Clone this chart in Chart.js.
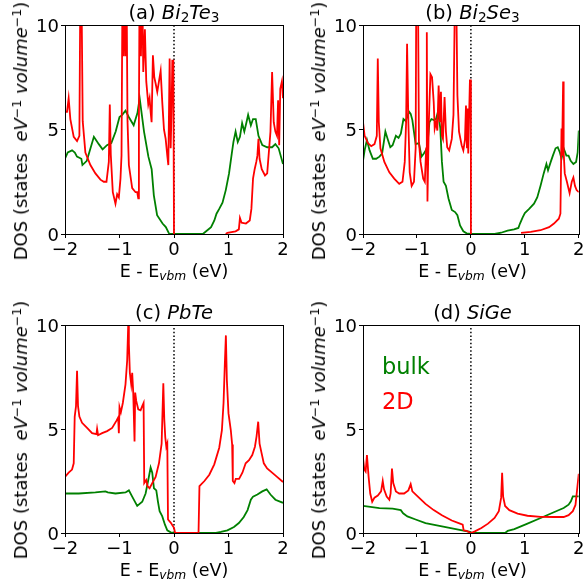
<!DOCTYPE html>
<html><head><meta charset="utf-8">
<script src="https://cdn.jsdelivr.net/npm/chart.js@4/dist/chart.umd.min.js"></script>
<style>
body{margin:0;background:#fff;}
#wrap{position:relative;width:586px;height:586px;overflow:hidden;font-family:"DejaVu Sans",sans-serif;color:#000;}
canvas{position:absolute;}
.t{position:absolute;white-space:nowrap;font-size:17.5px;line-height:1;}
.ttl{transform:translateX(-50%);font-size:19.5px;}
.xl{transform:translateX(-50%);}
.yl{transform:translate(-50%,-50%) rotate(-90deg);font-size:18px;}
.sp{font-size:0.7em;position:relative;top:-0.5em;}
.sb{font-size:0.7em;position:relative;top:0.25em;}
i{font-style:italic;}
.leg{position:absolute;font-size:22.5px;line-height:1;white-space:nowrap;}
</style></head>
<body><div id="wrap"></div>
<script>
// ---- data: energy (eV) vs DOS ----
const xTicks = [-2, -1, 0, 1, 2];
const yTicks = [0, 5, 10];
const vline = [[0, 0], [0, 10]];

const aBulk = [[-2,3.6],[-1.95,3.9],[-1.87,4.0],[-1.82,3.9],[-1.78,3.7],[-1.70,3.6],[-1.68,3.3],[-1.60,3.5],[-1.47,4.65],[-1.38,4.3],[-1.31,4.05],[-1.23,4.25],[-1.15,4.35],[-1.07,4.9],[-1.0,5.6],[-0.95,5.7],[-0.89,5.9],[-0.83,5.6],[-0.74,5.2],[-0.67,5.8],[-0.63,6.5],[-0.55,4.9],[-0.47,3.7],[-0.41,3.1],[-0.37,1.85],[-0.31,0.9],[-0.21,0.5],[-0.15,0.33],[-0.09,0.02],[0,0],[0.53,0],[0.59,0.13],[0.68,0.33],[0.74,0.65],[0.78,0.97],[0.83,1.2],[0.89,1.5],[0.95,2.1],[1.01,2.9],[1.06,3.85],[1.09,4.4],[1.13,4.9],[1.17,4.4],[1.21,4.65],[1.25,5.3],[1.29,4.9],[1.33,5.35],[1.36,5.7],[1.41,5.2],[1.45,5.5],[1.5,5.5],[1.55,4.7],[1.62,4.25],[1.71,4.15],[1.8,4.15],[1.86,4.3],[1.92,4.1],[2,3.35]];
const a2D = [[-2,5.85],[-1.963,5.85],[-1.933,6.5],[-1.902,5.5],[-1.84,4.65],[-1.779,4.45],[-1.736,4.7],[-1.718,12],[-1.699,12],[-1.675,5.4],[-1.626,3.9],[-1.534,3.3],[-1.442,2.9],[-1.35,2.6],[-1.288,2.5],[-1.239,2.5],[-1.196,3.45],[-1.178,6.2],[-1.16,3.8],[-1.123,2.0],[-1.074,1.45],[-1.043,1.9],[-1.012,1.75],[-0.982,2.65],[-0.963,3.76],[-0.945,12],[-0.926,8.5],[-0.908,12],[-0.89,8.5],[-0.871,12],[-0.853,5.4],[-0.828,3.3],[-0.767,2.2],[-0.706,2.0],[-0.675,2.0],[-0.656,1.7],[-0.644,5.4],[-0.632,12],[-0.607,8.5],[-0.583,12],[-0.564,7.75],[-0.534,9.8],[-0.509,7.3],[-0.472,6.2],[-0.448,6.5],[-0.429,5.85],[-0.411,5.35],[-0.387,8.55],[-0.362,7.5],[-0.337,7.2],[-0.307,6.8],[-0.276,7.3],[-0.245,7.8],[-0.215,6.3],[-0.184,5.0],[-0.153,4.55],[-0.123,3.75],[-0.104,3.3],[-0.08,8.4],[-0.061,4.1],[-0.043,6.15],[-0.031,8.3],[-0.012,8.3],[0,0],[0.5,null],[0.95,0],[0.98,0.06],[1.13,0.13],[1.19,0.22],[1.21,0.77],[1.24,0.54],[1.32,0.5],[1.39,0.65],[1.42,1.2],[1.45,2.65],[1.48,3.1],[1.51,3.45],[1.53,3.75],[1.55,4.55],[1.57,3.6],[1.61,3.1],[1.67,2.8],[1.71,2.9],[1.74,3.9],[1.77,4.9],[1.8,7.75],[1.83,5.35],[1.86,4.9],[1.89,4.7],[1.91,6.4],[1.93,4.25],[1.95,6.95],[1.98,7.3],[2.0,6.5]];

const bBulk = [[-2,3.5],[-1.97,4.0],[-1.927,4.5],[-1.878,4.0],[-1.817,3.6],[-1.756,3.6],[-1.695,3.7],[-1.646,3.85],[-1.585,4.9],[-1.543,4.55],[-1.494,4.15],[-1.451,4.25],[-1.39,4.7],[-1.341,4.6],[-1.299,4.8],[-1.25,5.5],[-1.207,5.4],[-1.146,5.85],[-1.116,5.75],[-1.085,5.45],[-1.024,4.3],[-0.963,4.35],[-0.915,3.7],[-0.872,3.85],[-0.811,4.1],[-0.768,5.35],[-0.732,5.5],[-0.689,5.45],[-0.646,5.5],[-0.61,5.85],[-0.567,5.05],[-0.537,3.45],[-0.506,2.5],[-0.463,2.3],[-0.415,1.7],[-0.354,1.15],[-0.293,1.05],[-0.25,0.9],[-0.201,0.41],[-0.14,0.13],[-0.079,0.03],[0,0],[0.44,0],[0.56,0.06],[0.68,0.16],[0.8,0.22],[0.88,0.29],[0.91,0.5],[0.96,0.8],[1.0,1.0],[1.08,1.2],[1.17,1.45],[1.23,1.75],[1.29,2.3],[1.35,2.9],[1.4,3.35],[1.43,3.05],[1.48,3.45],[1.52,3.75],[1.57,4.1],[1.61,4.15],[1.65,3.9],[1.68,3.6],[1.72,4.1],[1.77,3.75],[1.81,3.75],[1.85,3.5],[1.9,3.35],[1.95,3.45],[1.98,3.9],[2.0,4.95]];
const b2D = [[-2,5.35],[-1.97,4.7],[-1.909,4.35],[-1.848,4.2],[-1.787,4.3],[-1.744,4.7],[-1.726,8.4],[-1.707,5.35],[-1.677,4.1],[-1.604,3.45],[-1.512,2.95],[-1.421,2.65],[-1.329,2.4],[-1.268,2.5],[-1.226,3.45],[-1.201,5.35],[-1.183,9.1],[-1.159,5.35],[-1.134,2.95],[-1.098,2.3],[-1.055,2.5],[-1.024,4.1],[-1.012,12],[-0.982,12],[-0.963,4.4],[-0.933,3.45],[-0.884,2.65],[-0.854,2.5],[-0.829,4.1],[-0.817,9.65],[-0.805,1.55],[-0.78,5.35],[-0.75,7.65],[-0.72,7.5],[-0.689,6.3],[-0.671,5.05],[-0.646,5.35],[-0.622,4.95],[-0.598,7.1],[-0.573,5.35],[-0.555,6.8],[-0.537,4.7],[-0.518,4.55],[-0.488,6.55],[-0.463,4.9],[-0.439,4.15],[-0.402,4.0],[-0.354,4.55],[-0.323,5.7],[-0.293,12],[-0.274,12],[-0.25,6.65],[-0.22,4.9],[-0.171,4.25],[-0.14,4.0],[-0.11,4.5],[-0.091,6.15],[-0.073,4.1],[-0.061,6.0],[-0.049,3.85],[-0.018,7.35],[0,7.35],[0,0],[0.5,null],[0.93,0.05],[1.11,0.1],[1.29,0.18],[1.45,0.33],[1.54,0.5],[1.63,0.73],[1.66,0.97],[1.68,5.05],[1.69,3.75],[1.71,7.3],[1.72,3.9],[1.74,2.9],[1.78,2.5],[1.83,1.95],[1.87,2.5],[1.9,2.7],[1.93,2.3],[1.96,2.1],[2.0,2.0]];

const cBulk = [[-2,1.9],[-1.748,1.9],[-1.442,1.95],[-1.258,2.0],[-1.215,1.95],[-1.074,1.9],[-0.89,1.95],[-0.828,2.05],[-0.767,1.75],[-0.675,1.3],[-0.583,1.5],[-0.521,1.9],[-0.472,2.55],[-0.429,3.15],[-0.399,2.9],[-0.368,2.15],[-0.325,2.05],[-0.294,1.5],[-0.264,1.05],[-0.215,0.8],[-0.166,0.4],[-0.123,0.13],[-0.061,0.03],[0,0],[0.77,0],[0.86,0.05],[0.98,0.13],[1.1,0.29],[1.19,0.48],[1.28,0.77],[1.35,1.1],[1.41,1.6],[1.45,1.75],[1.53,1.85],[1.62,2.0],[1.7,2.1],[1.77,1.85],[1.86,1.6],[2.0,1.45]];
const c2D = [[-2,2.7],[-1.933,2.9],[-1.871,3.05],[-1.84,3.35],[-1.822,5.6],[-1.798,6.1],[-1.779,7.8],[-1.761,6.1],[-1.736,5.6],[-1.687,5.3],[-1.595,5.05],[-1.503,4.8],[-1.423,4.75],[-1.411,5.0],[-1.393,4.7],[-1.319,4.8],[-1.227,4.9],[-1.135,5.05],[-1.055,5.4],[-1.025,5.55],[-1.012,4.8],[-1.0,6.05],[-0.975,5.8],[-0.939,6.25],[-0.89,7.15],[-0.859,8.3],[-0.84,10],[-0.828,9.1],[-0.81,7.7],[-0.785,7.15],[-0.767,7.7],[-0.748,6.75],[-0.724,4.4],[-0.712,6.75],[-0.693,6.35],[-0.656,5.95],[-0.613,5.9],[-0.583,6.1],[-0.558,6.25],[-0.546,2.4],[-0.509,2.55],[-0.485,2.25],[-0.448,2.15],[-0.399,2.4],[-0.337,2.7],[-0.276,3.35],[-0.227,4.3],[-0.196,7.2],[-0.178,5.45],[-0.16,4.6],[-0.141,4.15],[-0.123,4.3],[-0.11,0.65],[-0.061,0.5],[0,0.25],[0.02,0],[0.45,0],[0.467,2.25],[0.558,2.5],[0.648,2.8],[0.739,3.3],[0.83,4.1],[0.879,4.95],[0.909,6.25],[0.933,8.15],[0.952,9.5],[0.97,7.35],[1.0,5.75],[1.042,4.95],[1.067,4.25],[1.079,2.5],[1.109,2.4],[1.133,2.6],[1.194,2.6],[1.255,2.9],[1.315,3.35],[1.376,3.5],[1.436,3.75],[1.485,4.15],[1.515,4.65],[1.545,5.35],[1.57,4.3],[1.606,3.85],[1.648,3.35],[1.709,3.1],[1.8,2.9],[1.891,2.7],[2.0,2.45]];

const dBulk = [[-2,1.3],[-1.695,1.2],[-1.451,1.17],[-1.299,1.1],[-1.256,0.95],[-1.177,0.8],[-1.024,0.65],[-0.841,0.48],[-0.537,0.32],[-0.232,0.16],[-0.018,0.06],[0,0],[0.634,0],[0.683,0.1],[0.805,0.19],[1.049,0.45],[1.293,0.72],[1.537,1.0],[1.72,1.2],[1.811,1.36],[1.854,1.52],[1.89,1.76],[1.963,1.76],[2.0,1.76]];
const d2D = [[-2,3.6],[-1.976,3.05],[-1.951,2.95],[-1.927,3.75],[-1.896,2.7],[-1.866,1.9],[-1.829,1.5],[-1.787,1.7],[-1.726,1.8],[-1.665,2.0],[-1.634,2.5],[-1.61,2.1],[-1.561,1.75],[-1.512,1.6],[-1.488,1.9],[-1.463,3.1],[-1.439,2.4],[-1.39,2.0],[-1.329,1.9],[-1.238,1.9],[-1.159,2.05],[-1.116,2.35],[-1.085,2.0],[-0.963,1.7],[-0.841,1.4],[-0.689,1.1],[-0.537,0.85],[-0.354,0.6],[-0.201,0.45],[-0.152,0.4],[-0.134,0.13],[-0.079,0.1],[0,0],[0.073,0.08],[0.195,0.24],[0.317,0.45],[0.439,0.72],[0.518,1.05],[0.561,1.7],[0.579,2.9],[0.598,1.75],[0.634,1.3],[0.713,1.1],[0.866,0.93],[1.049,0.83],[1.293,0.78],[1.537,0.77],[1.72,0.77],[1.811,0.86],[1.89,1.05],[1.939,1.35],[1.976,2.25],[2.0,2.85]];

const titles = [
  '(a) <i>Bi</i><span class="sb">2</span><i>Te</i><span class="sb">3</span>',
  '(b) <i>Bi</i><span class="sb">2</span><i>Se</i><span class="sb">3</span>',
  '(c) <i>PbTe</i>',
  '(d) <i>SiGe</i>'
];
const seriesBulk = [aBulk, bBulk, cBulk, dBulk];
const series2D = [a2D, b2D, c2D, d2D];
const legendLabels = ['bulk', '2D'];
const xLabel = 'E - E<span class="sb"><i>vbm</i></span> (eV)';
const yLabel = 'DOS (states&nbsp;&nbsp;<i>eV</i><span class="sp">\u22121</span> <i>volume</i><span class="sp">\u22121</span>)';

// ---- layout (pixel geometry of each panel) ----
const panels = [
  {left:0,   top:0,   w:293, h:293, l:65,  t:25,  r:283, b:234},
  {left:293, top:0,   w:293, h:293, l:363, t:25,  r:582, b:234},
  {left:0,   top:293, w:293, h:293, l:65,  t:325, r:283, b:533},
  {left:293, top:293, w:293, h:293, l:363, t:325, r:582, b:533}
];

Chart.defaults.font.family = '"DejaVu Sans", sans-serif';
Chart.defaults.font.size = 18;
Chart.defaults.color = '#000';

const frame = {
  id: 'frame',
  afterDatasetsDraw(chart) {
    const a = chart.chartArea, c = chart.ctx;
    c.save();
    c.strokeStyle = '#000';
    c.lineWidth = 1;
    c.strokeRect(Math.round(a.left) + 0.5, Math.round(a.top) + 0.5, Math.round(a.right - a.left), Math.round(a.bottom - a.top));
    c.restore();
  }
};

const fmt = v => (v < 0 ? '\u2212' + Math.abs(v) : String(v));
const toXY = arr => arr.map(p => ({x: p[0], y: p[1]}));
const wrap = document.getElementById('wrap');

panels.forEach((p, i) => {
  const cv = document.createElement('canvas');
  cv.width = p.w; cv.height = p.h;
  cv.style.left = p.left + 'px'; cv.style.top = p.top + 'px';
  cv.style.width = p.w + 'px'; cv.style.height = p.h + 'px';
  wrap.appendChild(cv);
  const yW = p.l - p.left, padT = p.t - p.top, padR = p.left + p.w - p.r, xH = p.top + p.h - p.b;
  new Chart(cv, {
    type: 'line',
    data: {
      datasets: [
        {data: toXY(series2D[i]), borderColor: '#ff0000', borderWidth: 1.8, pointRadius: 0, spanGaps: false},
        {data: toXY(seriesBulk[i]), borderColor: '#008000', borderWidth: 1.8, pointRadius: 0},
        {data: toXY(vline), borderColor: '#000', borderWidth: 1.5, borderDash: [1.5, 2.2], pointRadius: 0}
      ]
    },
    options: {
      responsive: false, animation: false, devicePixelRatio: 1,
      layout: {autoPadding: false, padding: {top: padT, right: padR, left: 0, bottom: 0}},
      plugins: {legend: {display: false}, tooltip: {enabled: false}},
      scales: {
        x: {
          type: 'linear', min: xTicks[0], max: xTicks[xTicks.length - 1],
          afterBuildTicks: s => { s.ticks = xTicks.map(v => ({value: v})); },
          afterFit: s => { s.height = xH; },
          ticks: {callback: fmt, padding: 1.5, maxRotation: 0, autoSkip: false},
          grid: {drawOnChartArea: false, drawTicks: true, tickLength: 4, color: '#000', tickWidth: 1},
          border: {display: true, color: '#000', width: 1}
        },
        y: {
          type: 'linear', min: yTicks[0], max: yTicks[yTicks.length - 1],
          afterBuildTicks: s => { s.ticks = yTicks.map(v => ({value: v})); },
          afterFit: s => { s.width = yW; },
          ticks: {callback: fmt, padding: 2, labelOffset: 2},
          grid: {drawOnChartArea: false, drawTicks: true, tickLength: 4, color: '#000', tickWidth: 1},
          border: {display: true, color: '#000', width: 1}
        }
      }
    },
    plugins: [frame]
  });

  const cx = (p.l + p.r) / 2, cy = (p.t + p.b) / 2;
  const t = document.createElement('div');
  t.className = 't ttl'; t.innerHTML = titles[i];
  t.style.left = cx + 'px'; t.style.top = (p.t - 22) + 'px';
  wrap.appendChild(t);
  const xl = document.createElement('div');
  xl.className = 't xl'; xl.innerHTML = xLabel;
  xl.style.left = cx + 'px'; xl.style.top = (p.b + 29) + 'px';
  wrap.appendChild(xl);
  const yl = document.createElement('div');
  yl.className = 't yl'; yl.innerHTML = yLabel;
  yl.style.left = (p.l - 44) + 'px'; yl.style.top = (cy + 1) + 'px';
  wrap.appendChild(yl);
});

// legend text in panel (d)
const lg1 = document.createElement('div');
lg1.className = 'leg'; lg1.style.color = '#008000'; lg1.textContent = legendLabels[0];
lg1.style.left = '382px'; lg1.style.top = '355px';
wrap.appendChild(lg1);
const lg2 = document.createElement('div');
lg2.className = 'leg'; lg2.style.color = '#ff0000'; lg2.textContent = legendLabels[1];
lg2.style.left = '382px'; lg2.style.top = '390px';
wrap.appendChild(lg2);
</script>
</body></html>
